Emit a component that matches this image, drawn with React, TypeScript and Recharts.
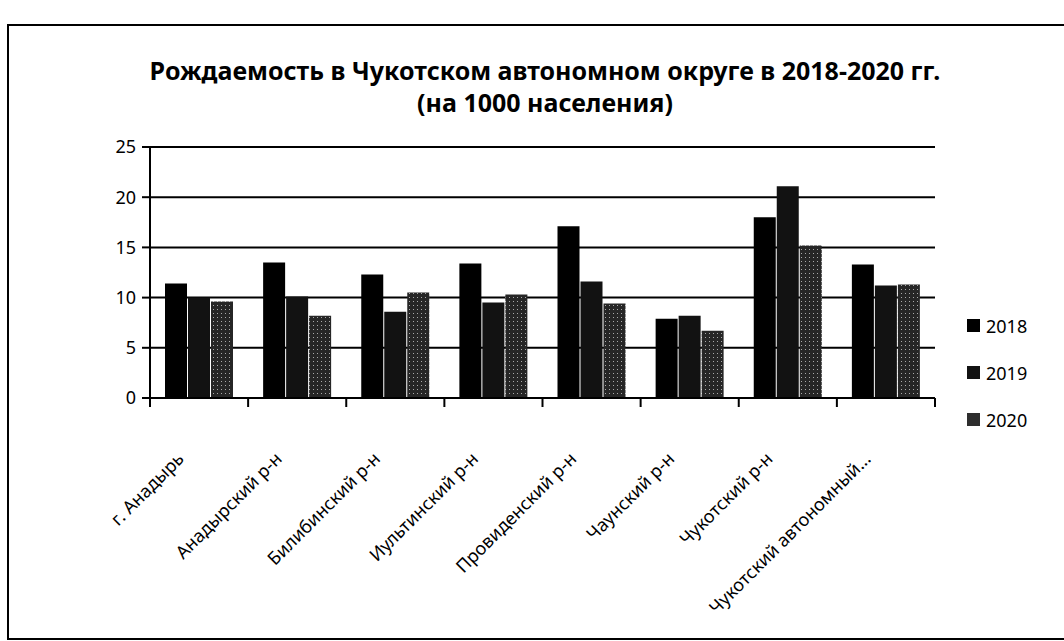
import { BarChart, Bar, XAxis, YAxis, CartesianGrid } from "recharts";

const RAIONY = [
  "г. Анадырь",
  "Анадырский р-н",
  "Билибинский р-н",
  "Иультинский р-н",
  "Провиденский р-н",
  "Чаунский р-н",
  "Чукотский р-н",
  "Чукотский автономный...",
];

const GOD_2018 = [11.4, 13.5, 12.3, 13.4, 17.1, 7.9, 18.0, 13.3];
const GOD_2019 = [10.0, 10.1, 8.6, 9.5, 11.6, 8.2, 21.1, 11.2];
const GOD_2020 = [9.6, 8.2, 10.5, 10.3, 9.4, 6.7, 15.2, 11.3];

const Y_TICKS = [0, 5, 10, 15, 20, 25];

const SERII = [
  { key: "2018", fill: "#000000" },
  { key: "2019", fill: "#121212" },
  { key: "2020", fill: "url(#tochki)" },
];

const dannye = RAIONY.map((r, i) => ({
  raion: r,
  "2018": GOD_2018[i],
  "2019": GOD_2019[i],
  "2020": GOD_2020[i],
}));

const SHIRINA = 1064;
const VYSOTA = 641;
const PLOT_LEFT = 150;
const PLOT_RIGHT = 935;
const PLOT_TOP = 147;
const PLOT_BOTTOM = 398;
const SHAG = (PLOT_RIGHT - PLOT_LEFT) / RAIONY.length;

const shrift = "'Noto Sans', 'Open Sans', sans-serif";

// подпись категории под углом + засечки между категориями
function TickRaion(props: any) {
  const { x, payload, index } = props;
  const y0 = PLOT_BOTTOM;
  return (
    <g>
      <line x1={x - SHAG / 2} y1={y0} x2={x - SHAG / 2} y2={y0 + 9} stroke="#000" strokeWidth={2} />
      {index === RAIONY.length - 1 && (
        <line x1={x + SHAG / 2} y1={y0} x2={x + SHAG / 2} y2={y0 + 9} stroke="#000" strokeWidth={2} />
      )}
      <text
        x={0}
        y={0}
        transform={`translate(${x - 14},${y0 + 62}) rotate(-45)`}
        textAnchor="end"
        fontSize={18}
        fontFamily={shrift}
        fill="#000"
      >
        {payload.value}
      </text>
    </g>
  );
}

export default function App() {
  return (
    <div
      style={{
        position: "absolute",
        left: 0,
        top: 0,
        width: SHIRINA,
        height: VYSOTA,
        background: "#fff",
        overflow: "hidden",
      }}
    >
      {/* рамка */}
      <div
        style={{
          position: "absolute",
          left: 7,
          top: 24,
          width: 1100,
          height: 612,
          border: "2px solid #000",
        }}
      />

      {/* заголовок */}
      <div
        style={{
          position: "absolute",
          left: 110,
          width: 870,
          top: 54,
          textAlign: "center",
          fontFamily: shrift,
          fontWeight: 700,
          fontSize: 25,
          lineHeight: "32px",
          color: "#000",
        }}
      >
        Рождаемость в Чукотском автономном округе в 2018-2020 гг.
        <br />
        (на 1000 населения)
      </div>

      <div style={{ position: "absolute", left: 0, top: 0 }}>
        <BarChart
          width={SHIRINA}
          height={VYSOTA}
          data={dannye}
          margin={{ top: PLOT_TOP, right: SHIRINA - PLOT_RIGHT, bottom: 0, left: 0 }}
          barSize={22}
          barGap={1}
        >
          <defs>
            <pattern id="tochki" width={4} height={4} patternUnits="userSpaceOnUse">
              <rect width={4} height={4} fill="#262626" />
              <rect x={1} y={1} width={1} height={1} fill="#aaa" />
            </pattern>
          </defs>
          <CartesianGrid vertical={false} stroke="#000" strokeWidth={2} />
          <XAxis
            dataKey="raion"
            height={VYSOTA - PLOT_BOTTOM}
            interval={0}
            axisLine={{ stroke: "#000", strokeWidth: 2 }}
            tickLine={false}
            tick={<TickRaion />}
          />
          <YAxis
            width={PLOT_LEFT}
            domain={[0, 25]}
            ticks={Y_TICKS}
            interval={0}
            axisLine={{ stroke: "#000", strokeWidth: 2 }}
            tickLine={{ stroke: "#000", strokeWidth: 2 }}
            tickSize={8}
            tickMargin={6}
            tick={{ fill: "#000", fontSize: 18, fontFamily: shrift }}
          />
          {SERII.map((s) => (
            <Bar key={s.key} dataKey={s.key} fill={s.fill} isAnimationActive={false} />
          ))}
        </BarChart>
      </div>

      {/* легенда */}
      <div
        style={{
          position: "absolute",
          left: 967,
          top: 302,
          fontFamily: shrift,
          fontSize: 18,
          color: "#000",
        }}
      >
        {SERII.map((s) => (
          <div key={s.key} style={{ display: "flex", alignItems: "center", height: 47 }}>
            <div
              style={{
                width: 13,
                height: 13,
                marginRight: 6,
                background: s.key === "2020" ? "#2e2e2e" : s.fill,
              }}
            />
            <span>{s.key}</span>
          </div>
        ))}
      </div>
    </div>
  );
}
